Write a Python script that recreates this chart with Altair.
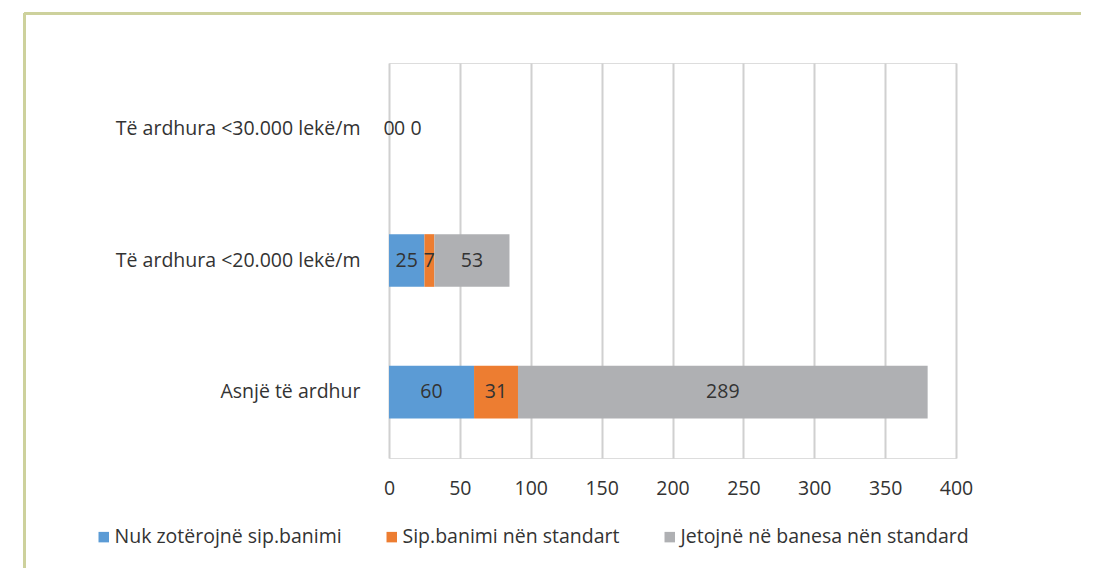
import altair as alt
import pandas as pd

categories = ["Të ardhura <30.000 lekë/m", "Të ardhura <20.000 lekë/m", "Asnjë të ardhur"]
series = ["Nuk zotërojnë sip.banimi", "Sip.banimi nën standart", "Jetojnë në banesa nën standard"]
nuk = [0, 25, 60]
sip = [0, 7, 31]
jet = [0, 53, 289]
colors = ["#5b9bd5", "#ed7d31", "#afb0b3"]
x_ticks = [0, 50, 100, 150, 200, 250, 300, 350, 400]

FONT = "Open Sans"
TXT = "#333333"
FS = 19.5

rows = []
for i, c in enumerate(categories):
    for j, (s, vals) in enumerate(zip(series, [nuk, sip, jet])):
        rows.append({"cat": c, "series": s, "order": j, "value": vals[i]})
df = pd.DataFrame(rows)

base = alt.Chart(df).transform_stack(
    stack="value", groupby=["cat"], sort=[alt.SortField("order")], as_=["x0", "x1"]
).transform_calculate(mid="(datum.x0 + datum.x1) / 2")

xscale = alt.Scale(domain=[0, 400], nice=False, zero=True)
yscale = alt.Scale(domain=categories, paddingInner=0.6, paddingOuter=0.3)

bars = base.mark_bar().encode(
    x=alt.X("x0:Q", scale=xscale, axis=alt.Axis(
        values=x_ticks, grid=True, gridColor="#d0d0d0", gridWidth=2, domain=False,
        ticks=False, labelPadding=21, labelFontSize=FS, labelFont=FONT, labelColor=TXT,
        labelFlush=False, title=None)),
    x2="x1:Q",
    y=alt.Y("cat:N", scale=yscale, sort=categories, axis=alt.Axis(
        domain=False, ticks=False, grid=False, labelPadding=29, labelFontSize=FS,
        labelFont=FONT, labelColor=TXT, labelLimit=400, title=None)),
    color=alt.Color("series:N", scale=alt.Scale(domain=series, range=colors), legend=alt.Legend(
        orient="none", legendX=-295, legendY=464, direction="horizontal", title=None,
        symbolType="square", symbolSize=110, symbolStrokeWidth=0, labelFontSize=FS,
        labelFont=FONT, labelColor=TXT, columnPadding=40, labelOffset=1, labelLimit=400)),
)

labels = base.transform_filter("datum.value > 0").mark_text(
    fontSize=FS, font=FONT, color=TXT
).encode(x=alt.X("mid:Q", scale=xscale), y=alt.Y("cat:N", scale=yscale, sort=categories), text="value:Q")

zero_layers = []
for j, dx in enumerate([0, 10.5, 27]):
    zero_layers.append(
        base.transform_filter(f"datum.value == 0 && datum.order == {j}").mark_text(
            fontSize=FS, font=FONT, color=TXT, dx=dx
        ).encode(x=alt.X("mid:Q", scale=xscale), y=alt.Y("cat:N", scale=yscale, sort=categories), text="value:Q")
    )

frame_color = "#cdd19c"
frame_top = alt.Chart(df).mark_rule(color=frame_color, strokeWidth=2.5).encode(
    x=alt.value(-364.5), x2=alt.value(720), y=alt.value(-49.5))
frame_left = alt.Chart(df).mark_rule(color=frame_color, strokeWidth=2.5).encode(
    x=alt.value(-364.5), y=alt.value(-49.5), y2=alt.value(520))

chart = alt.layer(bars, labels, *zero_layers, frame_top, frame_left).properties(
    width=567, height=395,
    autosize=alt.AutoSizeParams(type="none"),
    padding={"left": 381, "top": 55, "right": 125, "bottom": 110},
).configure_view(stroke=None).configure(background="white")

chart.save("out.html", embed_options={"renderer": "svg", "actions": False})
